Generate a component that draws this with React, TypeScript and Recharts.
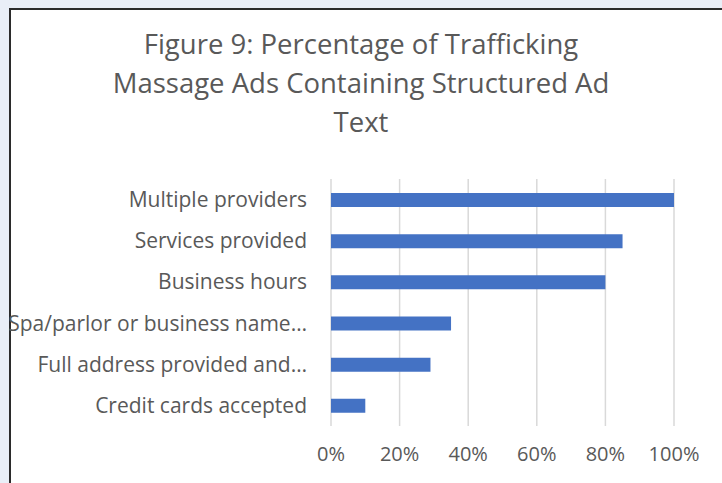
import { Bar, BarChart, CartesianGrid, XAxis, YAxis } from 'recharts'

const categories = [
  'Multiple providers',
  'Services provided',
  'Business hours',
  'Spa/parlor or business name…',
  'Full address provided and…',
  'Credit cards accepted',
]
const percentages = [100, 85, 80, 35, 29, 10]
const xTicks = [0, 20, 40, 60, 80, 100]
const titleLines = [
  'Figure 9: Percentage of Trafficking',
  'Massage Ads Containing Structured Ad',
  'Text',
]

const data = categories.map((name, i) => ({ name, value: percentages[i] }))

const font = '"Open Sans", sans-serif'
const grey = '#595959'

export default function App() {
  return (
    <div
      style={{
        position: 'fixed',
        left: 0,
        top: 0,
        width: 722,
        height: 483,
        overflow: 'hidden',
        background: '#e9eef7',
        fontFamily: font,
      }}
    >
      <div
        style={{
          position: 'absolute',
          left: 9,
          top: 8,
          right: 0,
          bottom: 0,
          background: '#fff',
          borderLeft: '2px solid #2b2b2b',
          borderTop: '2px solid #2b2b2b',
        }}
      />
      {titleLines.map((line, i) => (
        <div
          key={line}
          style={{
            position: 'absolute',
            left: 0,
            width: 722,
            top: 26 + i * 39,
            textAlign: 'center',
            fontSize: 27.5,
            lineHeight: '36px',
            color: grey,
          }}
        >
          {line}
        </div>
      ))}
      <div style={{ position: 'absolute', left: 0, top: 0 }}>
        <BarChart
          width={722}
          height={483}
          layout='vertical'
          data={data}
          margin={{ top: 179, right: 48, bottom: 27, left: 0 }}
        >
          <CartesianGrid horizontal={false} stroke='#d9d9d9' strokeWidth={1.5} />
          <XAxis
            type='number'
            domain={[0, 100]}
            ticks={xTicks}
            height={30}
            tickLine={false}
            axisLine={false}
            tickMargin={15}
            tickFormatter={(v) => `${v}%`}
            tick={{ fill: grey, fontSize: 20, fontFamily: font }}
          />
          <YAxis
            type='category'
            dataKey='name'
            width={331}
            tickLine={false}
            axisLine={false}
            tickMargin={18}
            tick={{ fill: grey, fontSize: 21, fontFamily: font }}
          />
          <Bar
            dataKey='value'
            fill='#4472c4'
            barSize={14}
            isAnimationActive={false}
          />
        </BarChart>
      </div>
    </div>
  )
}
